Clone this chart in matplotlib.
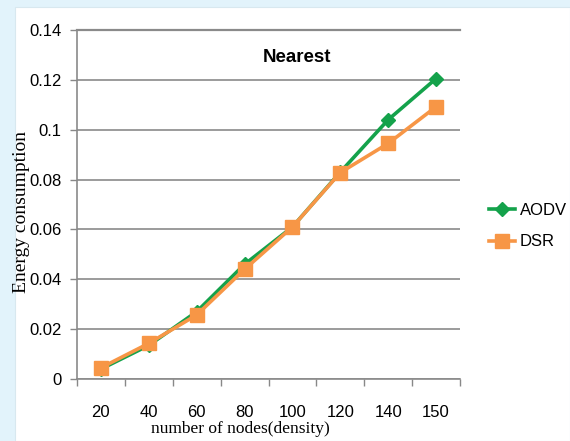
import matplotlib
matplotlib.use("Agg")
import matplotlib.pyplot as plt
from matplotlib.patches import Rectangle

nodes = ["20", "40", "60", "80", "100", "120", "140", "150"]
aodv = [0.0040, 0.0135, 0.0270, 0.0460, 0.0610, 0.0830, 0.1040, 0.1205]
dsr = [0.0045, 0.0143, 0.0257, 0.0440, 0.0610, 0.0828, 0.0945, 0.1092]
y_ticks = [0, 0.02, 0.04, 0.06, 0.08, 0.1, 0.12, 0.14]
y_labels = ["0", "0.02", "0.04", "0.06", "0.08", "0.1", "0.12", "0.14"]

W, H = 570, 441
fig = plt.figure(figsize=(W / 100, H / 100), dpi=100, facecolor="#e2f3fb")
# white panel behind the chart
fig.patches.append(Rectangle((15 / W, 0), 1 - 15 / W, 1 - 7 / H,
                             transform=fig.transFigure, facecolor="white",
                             edgecolor="#d8e8ef", lw=0.8, zorder=-5))

ax = fig.add_axes([77 / W, 1 - 379 / H, (460 - 77) / W, (379 - 30) / H])
ax.set_zorder(2)
ax.set_facecolor("white")

x = list(range(len(nodes)))
ax.plot(x, aodv, color="#14a24b", lw=2.6, marker="D", markersize=7.5,
        label="AODV", zorder=3)
ax.plot(x, dsr, color="#f79646", lw=2.6, marker="s", markersize=10,
        label="DSR", zorder=4)

ax.set_xlim(-0.5, len(nodes) - 0.5)
ax.set_ylim(0, 0.14)
ax.set_yticks(y_ticks)
ax.set_yticklabels(y_labels, fontsize=12, family="Liberation Sans")
ax.set_xticks(x)
ax.set_xticklabels(nodes, fontsize=12, family="Liberation Sans")
ax.set_xticks([i - 0.5 for i in range(len(nodes) + 1)], minor=True)
ax.tick_params(axis="x", which="major", length=0, pad=19)
ax.tick_params(axis="x", which="minor", length=5, color="#888888", width=1)
ax.tick_params(axis="y", length=5, color="#888888", width=1, pad=6)

ax.grid(axis="y", color="#8a8a8a", lw=1.2)
ax.set_axisbelow(True)
for s in ["top", "right"]:
    ax.spines[s].set_visible(False)
for s in ["left", "bottom"]:
    ax.spines[s].set_color("#8a8a8a")
    ax.spines[s].set_linewidth(1.2)
ax.axhline(0.14, color="#8a8a8a", lw=1.6, zorder=1, clip_on=False)

ax.text(0.574, 0.922, "Nearest", transform=ax.transAxes, ha="center",
        va="center", fontsize=13.5, fontweight="bold", family="Liberation Sans")

fig.text(22 / W, 1 - 212 / H, "Energy consumption", rotation=90, ha="center",
         va="center", fontsize=14, family="Liberation Serif")
fig.text(240 / W, 1 - 429 / H, "number of nodes(density)", ha="center",
         va="center", fontsize=12.5, family="Liberation Serif")

fig.legend(loc="upper left", bbox_to_anchor=(482 / W, 1 - 196 / H),
           frameon=False, prop={"family": "Liberation Sans", "size": 12},
           handlelength=1.6, handletextpad=0.25, labelspacing=1.0,
           borderaxespad=0)

fig.savefig("out.png", dpi=100, facecolor=fig.get_facecolor())
